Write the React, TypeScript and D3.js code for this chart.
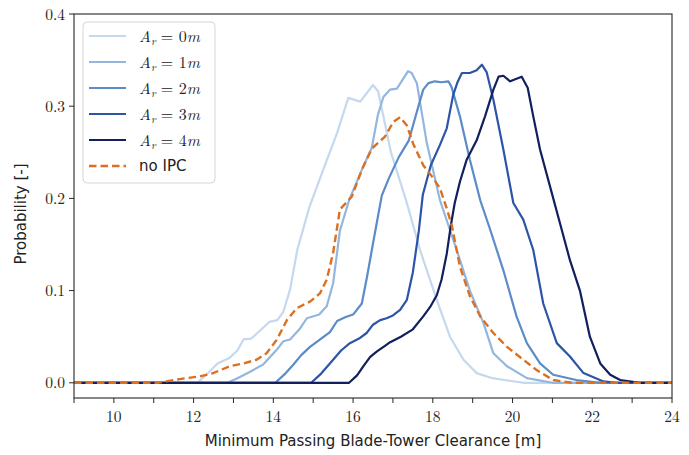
import React from "react";
import * as d3 from "d3";

const ar0X = [9, 12.1, 12.3, 12.6, 12.9, 13.1, 13.25, 13.45, 13.7, 13.9, 14.1, 14.25, 14.42, 14.6, 14.9, 15.25, 15.6, 15.88, 16.18, 16.5, 16.63, 16.95, 17.35, 17.68, 18.1, 18.43, 18.77, 19.1, 19.5, 19.8, 20.3, 24];
const ar0Y = [0, 0, 0.008, 0.021, 0.027, 0.035, 0.047, 0.048, 0.058, 0.066, 0.068, 0.077, 0.101, 0.144, 0.19, 0.231, 0.271, 0.309, 0.305, 0.323, 0.316, 0.25, 0.195, 0.144, 0.09, 0.05, 0.025, 0.0105, 0.005, 0.003, 0, 0];

const ar1X = [9, 12.85, 13.1, 13.42, 13.75, 14.09, 14.25, 14.42, 14.67, 14.84, 15.15, 15.34, 15.5, 15.67, 15.9, 16.22, 16.47, 16.62, 16.76, 16.93, 17.1, 17.38, 17.47, 17.6, 17.85, 18.18, 18.6, 18.93, 19.27, 19.52, 19.86, 20.36, 21.0, 24];
const ar1Y = [0, 0, 0.005, 0.012, 0.02, 0.036, 0.045, 0.047, 0.059, 0.07, 0.074, 0.083, 0.108, 0.165, 0.198, 0.231, 0.255, 0.29, 0.31, 0.318, 0.319, 0.338, 0.336, 0.325, 0.26, 0.198, 0.144, 0.1, 0.065, 0.032, 0.018, 0.005, 0, 0];

const ar2X = [9, 14.05, 14.3, 14.5, 14.7, 14.92, 15.2, 15.42, 15.6, 15.8, 16.0, 16.22, 16.35, 16.5, 16.72, 16.9, 17.15, 17.4, 17.6, 17.76, 17.89, 18.05, 18.22, 18.39, 18.47, 18.68, 18.93, 19.19, 19.44, 19.77, 20.1, 20.36, 20.69, 21.02, 21.6, 22.2, 24];
const ar2Y = [0, 0, 0.01, 0.0195, 0.03, 0.039, 0.048, 0.055, 0.067, 0.071, 0.074, 0.086, 0.115, 0.151, 0.203, 0.222, 0.245, 0.263, 0.294, 0.318, 0.325, 0.327, 0.326, 0.327, 0.321, 0.289, 0.242, 0.198, 0.166, 0.122, 0.072, 0.043, 0.021, 0.0087, 0.003, 0, 0];

const ar3X = [9, 14.95, 15.2, 15.5, 15.7, 15.92, 16.15, 16.34, 16.5, 16.68, 16.84, 17.0, 17.18, 17.35, 17.5, 17.65, 17.75, 17.95, 18.18, 18.35, 18.51, 18.62, 18.73, 18.93, 19.1, 19.23, 19.35, 19.52, 19.77, 20.02, 20.27, 20.52, 20.77, 21.11, 21.44, 21.78, 22.28, 22.6, 24];
const ar3Y = [0, 0, 0.01, 0.025, 0.035, 0.043, 0.048, 0.054, 0.063, 0.068, 0.07, 0.073, 0.079, 0.09, 0.12, 0.165, 0.204, 0.236, 0.258, 0.276, 0.312, 0.326, 0.336, 0.336, 0.339, 0.345, 0.337, 0.307, 0.253, 0.195, 0.177, 0.144, 0.086, 0.043, 0.0285, 0.0105, 0.0015, 0, 0];

const ar4X = [9, 15.9, 16.1, 16.26, 16.43, 16.6, 16.8, 16.93, 17.2, 17.5, 17.76, 17.93, 18.1, 18.22, 18.35, 18.45, 18.55, 18.68, 18.85, 19.1, 19.31, 19.52, 19.65, 19.77, 19.94, 20.23, 20.38, 20.52, 20.69, 20.94, 21.19, 21.44, 21.69, 21.94, 22.2, 22.45, 22.7, 23.2, 24];
const ar4Y = [0, 0, 0.008, 0.018, 0.028, 0.034, 0.04, 0.044, 0.05, 0.058, 0.072, 0.082, 0.095, 0.112, 0.14, 0.17, 0.195, 0.218, 0.242, 0.263, 0.289, 0.318, 0.332, 0.333, 0.327, 0.332, 0.32, 0.289, 0.253, 0.213, 0.173, 0.133, 0.1, 0.05, 0.021, 0.0087, 0.003, 0, 0];

const noIpcX = [9, 11.1, 11.65, 12.16, 12.49, 12.91, 13.25, 13.58, 13.83, 14.09, 14.34, 14.59, 14.92, 15.17, 15.34, 15.5, 15.67, 15.97, 16.22, 16.47, 16.8, 17.01, 17.18, 17.35, 17.51, 17.76, 18.01, 18.18, 18.35, 18.48, 18.68, 18.93, 19.19, 19.52, 19.86, 20.27, 20.6, 21.02, 21.5, 24];
const noIpcY = [0, 0, 0.004, 0.007, 0.0105, 0.018, 0.021, 0.025, 0.032, 0.047, 0.068, 0.081, 0.088, 0.097, 0.112, 0.141, 0.188, 0.202, 0.231, 0.254, 0.267, 0.283, 0.288, 0.279, 0.259, 0.236, 0.222, 0.211, 0.189, 0.17, 0.126, 0.094, 0.072, 0.054, 0.039, 0.025, 0.014, 0.003, 0, 0];

const arValues = ["0", "1", "2", "3", "4"];
const xTicks = [9, 10, 11, 12, 13, 14, 15, 16, 17, 18, 19, 20, 21, 22, 23, 24];
const xTickLabels = [10, 12, 14, 16, 18, 20, 22, 24];
const yTicks = [0, 0.1, 0.2, 0.3, 0.4];

const blueColors = ["#c5d8ee", "#93b6de", "#5b8bc9", "#2d55a7", "#131f5c"];
const orange = "#dd7020";

const W = 689;
const H = 455;
const M = { left: 74, right: 672, top: 14, bottom: 398 };

export default function App() {
  const x = d3.scaleLinear().domain([9, 24]).range([M.left, M.right]);
  const y = d3.scaleLinear().domain([-0.0165, 0.4]).range([M.bottom, M.top]);
  const line = d3
    .line<[number, number]>()
    .x((d) => x(d[0]))
    .y((d) => y(d[1]));

  const zip = (xs: number[], ys: number[]) => xs.map((v, i) => [v, ys[i]] as [number, number]);

  const blues = [
    zip(ar0X, ar0Y),
    zip(ar1X, ar1Y),
    zip(ar2X, ar2Y),
    zip(ar3X, ar3Y),
    zip(ar4X, ar4Y),
  ];
  const noIpc = zip(noIpcX, noIpcY);

  const serif = "'Latin Modern Roman', 'CMU Serif', 'DejaVu Serif', serif";
  const sans = "'DejaVu Sans', 'Liberation Sans', sans-serif";
  const frame = "#262626";

  const legX = 83;
  const legY = 22;
  const rowH = 26;

  return (
    <svg
      width={W}
      height={H}
      style={{ position: "absolute", left: 0, top: 0, background: "#fff" }}
    >
      <defs>
        <clipPath id="plotclip">
          <rect x={M.left} y={M.top} width={M.right - M.left} height={M.bottom - M.top} />
        </clipPath>
      </defs>
      <g clipPath="url(#plotclip)">
        {blues.map((d, i) => (
          <path
            key={i}
            d={line(d) || ""}
            fill="none"
            stroke={blueColors[i]}
            strokeWidth={2.2}
            strokeLinejoin="round"
          />
        ))}
        <path
          d={line(noIpc) || ""}
          fill="none"
          stroke={orange}
          strokeWidth={2.4}
          strokeDasharray="7.5,4"
          strokeLinejoin="round"
        />
      </g>
      {/* frame */}
      <rect
        x={M.left}
        y={M.top}
        width={M.right - M.left}
        height={M.bottom - M.top}
        fill="none"
        stroke={frame}
        strokeWidth={1.1}
      />
      {/* x ticks */}
      {xTicks.map((t) => (
        <line key={"xt" + t} x1={x(t)} x2={x(t)} y1={M.bottom} y2={M.bottom + 5} stroke={frame} strokeWidth={1} />
      ))}
      {xTickLabels.map((t) => (
        <text
          key={"xl" + t}
          x={x(t)}
          y={M.bottom + 24}
          textAnchor="middle"
          fontFamily={serif}
          fontSize={15.5}
          fill="#222"
        >
          {t}
        </text>
      ))}
      {/* y ticks */}
      {yTicks.map((t) => (
        <g key={"yt" + t}>
          <line x1={M.left - 5} x2={M.left} y1={y(t)} y2={y(t)} stroke={frame} strokeWidth={1} />
          <text
            x={M.left - 9}
            y={y(t) + 5.5}
            textAnchor="end"
            fontFamily={serif}
            fontSize={15.5}
            fill="#222"
          >
            {t.toFixed(1)}
          </text>
        </g>
      ))}
      <text
        x={(M.left + M.right) / 2}
        y={446}
        textAnchor="middle"
        fontFamily={sans}
        fontSize={15}
        fill="#222"
      >
        Minimum Passing Blade-Tower Clearance [m]
      </text>
      <text
        transform={`translate(26, ${(M.top + M.bottom) / 2 + 8}) rotate(-90)`}
        textAnchor="middle"
        fontFamily={sans}
        fontSize={15}
        fill="#222"
      >
        Probability [-]
      </text>
      {/* legend */}
      <rect
        x={legX}
        y={legY}
        width={132}
        height={161}
        rx={4}
        fill="#fff"
        fillOpacity={0.85}
        stroke="#d6d6d6"
        strokeWidth={1}
      />
      {arValues.map((a, i) => (
        <g key={"lg" + a}>
          <line
            x1={legX + 6}
            x2={legX + 43}
            y1={legY + 14 + i * rowH}
            y2={legY + 14 + i * rowH}
            stroke={blueColors[i]}
            strokeWidth={2.2}
          />
          <text x={legX + 56} y={legY + 20 + i * rowH} fontFamily={serif} fontSize={16} fill="#222">
            <tspan fontStyle="italic">A</tspan>
            <tspan fontStyle="italic" fontSize={11} dy={3}>r</tspan>
            <tspan dy={-3}> = {a}</tspan>
            <tspan fontStyle="italic">m</tspan>
          </text>
        </g>
      ))}
      <line
        x1={legX + 6}
        x2={legX + 43}
        y1={legY + 14 + 5 * rowH}
        y2={legY + 14 + 5 * rowH}
        stroke={orange}
        strokeWidth={2.4}
        strokeDasharray="7.5,4"
      />
      <text x={legX + 56} y={legY + 19 + 5 * rowH} fontFamily={sans} fontSize={15} fill="#222">
        no IPC
      </text>
    </svg>
  );
}
